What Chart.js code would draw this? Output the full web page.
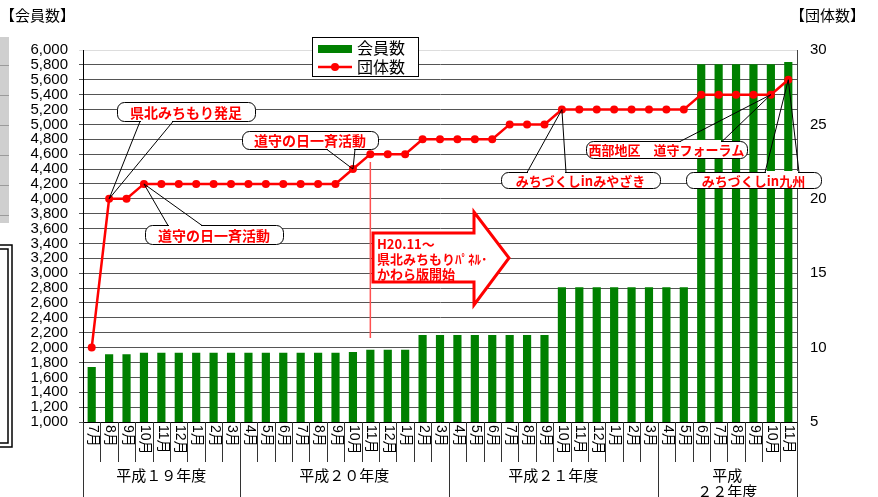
<!DOCTYPE html>
<html>
<head>
<meta charset="utf-8">
<script src="https://cdn.jsdelivr.net/npm/chart.js@4.4.1/dist/chart.umd.min.js"></script>
<style>
  html, body { margin: 0; padding: 0; background: #fff; }
  canvas { display: block; }
</style>
</head>
<body>
<canvas id="chart" width="878" height="497"></canvas>
<script>
// Month categories (H19.7 - H22.11)
const months = [
  '7月','8月','9月','10月','11月','12月','1月','2月','3月',
  '4月','5月','6月','7月','8月','9月','10月','11月','12月','1月','2月','3月',
  '4月','5月','6月','7月','8月','9月','10月','11月','12月','1月','2月','3月',
  '4月','5月','6月','7月','8月','9月','10月','11月'
];

// 会員数 (bars, left axis)
const members = [
  1740, 1910, 1910, 1930, 1930, 1930, 1930, 1930, 1930,
  1930, 1930, 1930, 1930, 1930, 1930, 1940, 1970, 1970, 1970, 2170, 2170,
  2170, 2170, 2170, 2170, 2170, 2170, 2810, 2810, 2810, 2810, 2810, 2810,
  2810, 2810, 5810, 5810, 5810, 5810, 5810, 5840
];

// 団体数 (line, right axis)
const groups = [
  10, 20, 20, 21, 21, 21, 21, 21, 21,
  21, 21, 21, 21, 21, 21, 22, 23, 23, 23, 24, 24,
  24, 24, 24, 25, 25, 25, 26, 26, 26, 26, 26, 26,
  26, 26, 27, 27, 27, 27, 27, 28
];

// fiscal year groups under the month labels
const fiscalYears = ['平成１９年度', '平成２０年度', '平成２１年度', '平成\n２２年度'];
const fiscalYearStart = [0, 9, 21, 33];

// callout texts and the month index they point at
const calloutTexts = ['県北みちもり発足', '道守の日一斉活動', '道守の日一斉活動', 'みちづくしinみやざき', '西部地区　道守フォーラム', 'みちづくしin九州'];
const calloutTargets = [1, 15, 3, 27, 39, 40];

const JP = '"Noto Sans CJK JP", sans-serif';
const NUM = '"Liberation Sans", Arial, "Noto Sans CJK JP", sans-serif';

// box geometry for each callout (layout only)
const calloutBoxes = [
  { x: 117, y: 102, w: 138, h: 19, base: [140, 173], side: 'bottom', size: 14 },
  { x: 242, y: 131, w: 136, h: 18, base: [327, 355], side: 'bottom', size: 14 },
  { x: 145, y: 225, w: 138, h: 19, base: [168, 202], side: 'top', size: 14 },
  { x: 501, y: 172, w: 159, h: 16, base: [527, 566], side: 'top', size: 13 },
  { x: 586, y: 141, w: 161, h: 17, base: [680, 722], side: 'top', size: 13 },
  { x: 686, y: 172, w: 135, h: 16, base: [765, 799], side: 'top', size: 13 }
];

function drawCallout(ctx, box, text, px, py) {
  const by = box.side === 'bottom' ? box.y + box.h : box.y;
  ctx.save();
  ctx.fillStyle = '#fff';
  ctx.strokeStyle = '#000';
  ctx.lineWidth = 1;
  ctx.beginPath();
  ctx.roundRect(box.x + 0.5, box.y + 0.5, box.w, box.h, 7);
  ctx.fill();
  ctx.stroke();
  // open the border where the pointer leaves the box
  ctx.fillRect(box.base[0] + 1, by - 1, box.base[1] - box.base[0] - 2, 3);
  ctx.beginPath();
  ctx.moveTo(box.base[0], by + 0.5);
  ctx.lineTo(px, py);
  ctx.lineTo(box.base[1], by + 0.5);
  ctx.stroke();
  ctx.fillStyle = '#f00';
  ctx.font = 'bold ' + box.size + 'px ' + JP;
  ctx.textAlign = 'center';
  ctx.textBaseline = 'middle';
  ctx.fillText(text, box.x + box.w / 2, box.y + box.h / 2 + 1);
  ctx.restore();
}

const overlayPlugin = {
  id: 'overlay',
  afterDraw(chart) {
    const ctx = chart.ctx;
    const xs = chart.scales.x;
    const area = chart.chartArea;
    const step = xs.getPixelForValue(1) - xs.getPixelForValue(0);

    ctx.save();

    // left edge leftovers of the sheet
    ctx.fillStyle = '#cfcfcf';
    ctx.fillRect(0, 37, 9, 186);
    ctx.strokeStyle = '#9a9a9a';
    ctx.lineWidth = 1;
    for (let y = 65; y < 223; y += 30) {
      ctx.beginPath(); ctx.moveTo(0, y + 0.5); ctx.lineTo(9, y + 0.5); ctx.stroke();
    }
    ctx.strokeStyle = '#000';
    ctx.lineWidth = 1.5;
    ctx.strokeRect(-5, 245, 17, 202);
    ctx.strokeRect(-5, 249, 13, 194);

    // axis titles
    ctx.fillStyle = '#000';
    ctx.font = '15px ' + JP;
    ctx.textBaseline = 'middle';
    ctx.textAlign = 'left';
    ctx.fillText('【会員数】', 0, 15);
    ctx.fillText('【団体数】', 790, 15);

    // month labels, rotated clockwise
    ctx.font = '14px ' + NUM;
    months.forEach((m, i) => {
      const x = xs.getPixelForValue(i);
      ctx.save();
      ctx.translate(x + 1, area.bottom + 3);
      ctx.rotate(Math.PI / 2);
      ctx.textAlign = 'left';
      ctx.textBaseline = 'middle';
      ctx.fillText(m, 0, 0);
      ctx.restore();
    });

    // separators
    ctx.strokeStyle = '#333';
    ctx.lineWidth = 1;
    for (let i = 0; i <= months.length; i++) {
      const x = Math.round(xs.getPixelForValue(i) - step / 2) + 0.5;
      const long = i === months.length || fiscalYearStart.includes(i);
      ctx.beginPath();
      ctx.moveTo(x, area.bottom);
      ctx.lineTo(x, long ? 497 : area.bottom + 40);
      ctx.stroke();
    }

    // fiscal year labels
    ctx.font = '15px ' + JP;
    ctx.textAlign = 'center';
    fiscalYears.forEach((label, k) => {
      const from = fiscalYearStart[k];
      const to = k + 1 < fiscalYearStart.length ? fiscalYearStart[k + 1] - 1 : months.length - 1;
      const cx = (xs.getPixelForValue(from) + xs.getPixelForValue(to)) / 2;
      const lines = label.split('\n');
      lines.forEach((ln, j) => ctx.fillText(ln, cx, 475 + j * 16));
    });

    // legend
    ctx.fillStyle = '#fff';
    ctx.fillRect(312, 37, 106, 39);
    ctx.strokeStyle = '#000';
    ctx.lineWidth = 1;
    ctx.strokeRect(312.5, 37.5, 106, 39);
    ctx.fillStyle = '#008000';
    ctx.fillRect(318, 45, 34, 8);
    ctx.strokeStyle = '#f00';
    ctx.lineWidth = 2.5;
    ctx.beginPath(); ctx.moveTo(318, 67); ctx.lineTo(352, 67); ctx.stroke();
    ctx.fillStyle = '#f00';
    ctx.beginPath(); ctx.arc(335, 67, 4, 0, Math.PI * 2); ctx.fill();
    ctx.fillStyle = '#000';
    ctx.font = '16px ' + JP;
    ctx.textAlign = 'left';
    ctx.textBaseline = 'middle';
    ctx.fillText('会員数', 357, 48);
    ctx.fillText('団体数', 357, 67);

    // vertical marker at H20.11
    const meta = chart.getDatasetMeta(1);
    ctx.strokeStyle = '#ff5050';
    ctx.lineWidth = 1.5;
    const mx = xs.getPixelForValue(16);
    ctx.beginPath(); ctx.moveTo(mx, 162); ctx.lineTo(mx, 338); ctx.stroke();

    // big arrow
    ctx.fillStyle = '#fff';
    ctx.strokeStyle = '#f00';
    ctx.lineWidth = 3;
    ctx.lineJoin = 'miter';
    ctx.beginPath();
    ctx.moveTo(373, 233); ctx.lineTo(474, 233); ctx.lineTo(474, 212);
    ctx.lineTo(509, 258); ctx.lineTo(474, 305); ctx.lineTo(474, 282);
    ctx.lineTo(373, 282); ctx.closePath();
    ctx.fill(); ctx.stroke();
    ctx.fillStyle = '#f00';
    ctx.font = 'bold 13px ' + JP;
    ctx.textAlign = 'left';
    ctx.fillText('H20.11～', 377, 244);
    ctx.fillText('県北みちもりﾊﾟﾈﾙ･', 377, 259);
    ctx.fillText('かわら版開始', 377, 274);

    // callouts
    calloutBoxes.forEach((box, k) => {
      const pt = meta.data[calloutTargets[k]];
      drawCallout(ctx, box, calloutTexts[k], pt.x, pt.y);
    });

    ctx.restore();
  }
};

new Chart(document.getElementById('chart'), {
  data: {
    labels: months,
    datasets: [
      {
        type: 'bar',
        label: '会員数',
        data: members,
        yAxisID: 'y',
        backgroundColor: '#008000',
        barPercentage: 0.47,
        categoryPercentage: 1,
        order: 2
      },
      {
        type: 'line',
        label: '団体数',
        data: groups,
        yAxisID: 'y2',
        borderColor: '#ff0000',
        backgroundColor: '#ff0000',
        borderWidth: 2.5,
        pointRadius: 4,
        pointBorderWidth: 0,
        tension: 0,
        order: 1
      }
    ]
  },
  options: {
    responsive: false,
    animation: false,
    devicePixelRatio: 1,
    layout: { padding: { left: 0, right: 31, top: 50, bottom: 75 } },
    plugins: { legend: { display: false }, tooltip: { enabled: false } },
    scales: {
      x: {
        type: 'category',
        offset: true,
        grid: { display: false },
        ticks: { display: false },
        border: { display: true, color: '#000', width: 1 },
        afterFit(s) { s.height = 0; }
      },
      y: {
        position: 'left',
        min: 1000,
        max: 6000,
        ticks: {
          stepSize: 200,
          maxTicksLimit: 40,
          autoSkip: false,
          padding: 11,
          color: '#000',
          font: { family: NUM, size: 15 },
          callback: v => v.toLocaleString('en-US')
        },
        grid: {
          color: c => (c.tick && c.tick.value === 6000 ? '#dddddd' : '#555555'),
          tickLength: 4,
          lineWidth: 1
        },
        border: { display: true, color: '#000', width: 1 },
        afterFit(s) { s.width = 83; }
      },
      y2: {
        position: 'right',
        min: 5,
        max: 30,
        ticks: {
          stepSize: 5,
          padding: 13,
          color: '#000',
          font: { family: NUM, size: 15 }
        },
        grid: { display: false, drawTicks: false },
        border: { display: true, color: '#444', width: 1 },
        afterFit(s) { s.width = 50; }
      }
    }
  },
  plugins: [overlayPlugin]
});
</script>
</body>
</html>
